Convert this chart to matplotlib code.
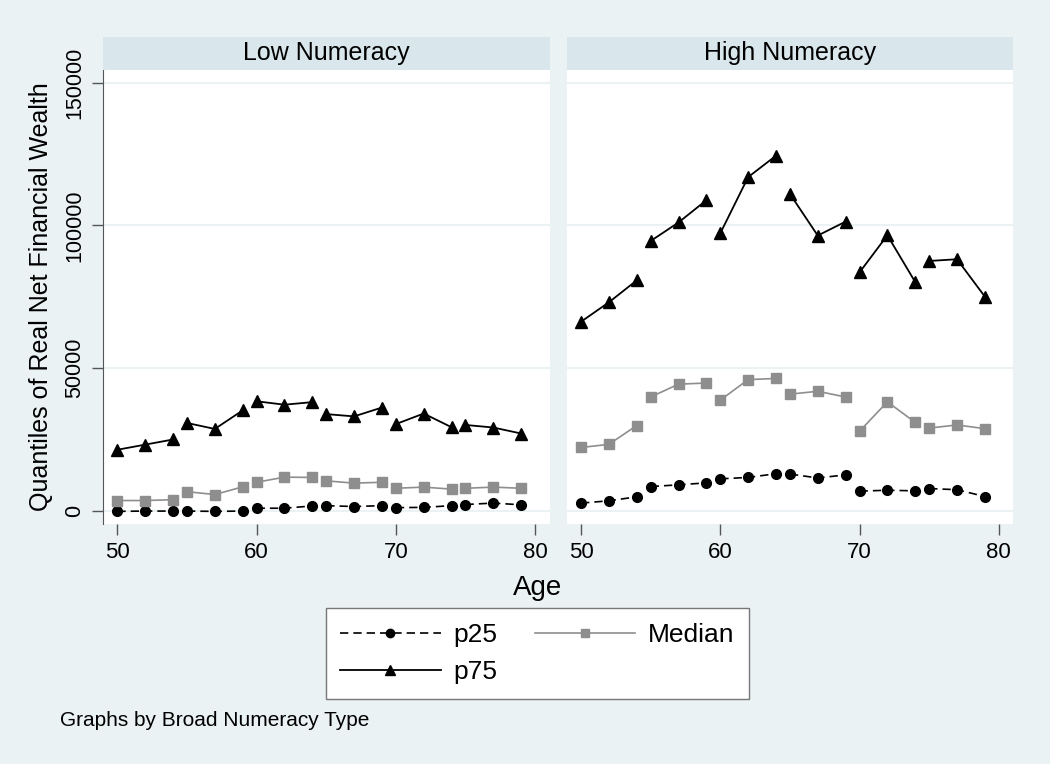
import numpy as np
import matplotlib.pyplot as plt
from matplotlib.lines import Line2D

plt.rcParams['font.family'] = ['Liberation Sans', 'DejaVu Sans']

# ages (data are grouped in blocks of three, lines break between blocks)
age = [50, 52, 54, 55, 57, 59, 60, 62, 64, 65, 67, 69, 70, 72, 74, 75, 77, 79]

low_p25 = [-300, -200, -200, -200, -300, -200, 800, 800, 1600, 1700, 1400, 1700,
           1000, 1100, 1700, 2100, 2600, 2000]
low_med = [3500, 3500, 3800, 6600, 5600, 8300, 9900, 11700, 11600, 10400, 9600, 9900,
           7800, 8200, 7500, 7800, 8200, 7800]
low_p75 = [21300, 23100, 24900, 30700, 28600, 35100, 38300, 37100, 38000, 33800, 33000, 36100,
           30300, 34000, 29200, 30000, 29100, 27000]

high_p25 = [2600, 3400, 4800, 8400, 9000, 9700, 11100, 11600, 12900, 12800, 11400, 12500,
            6800, 7100, 6900, 7700, 7300, 4900]
high_med = [22100, 23200, 29800, 39800, 44300, 44700, 38700, 45900, 46300, 40800, 41800, 39800,
            27800, 38100, 30900, 28900, 30000, 28700]
high_p75 = [66200, 73000, 80700, 94500, 101000, 108800, 97200, 116900, 124400, 111000, 96400, 101300,
            83500, 96500, 80100, 87500, 88100, 75000]

panels = ['Low Numeracy', 'High Numeracy']
yticks = [0, 50000, 100000, 150000]
xticks = [50, 60, 70, 80]

bg = '#EAF2F3'
strip_col = '#D9E6EB'
med_col = '#8E8E8E'

fig = plt.figure(figsize=(10.5, 7.64), dpi=100)
fig.patch.set_facecolor(bg)

styles = [
    dict(color='black', ls=(0, (5, 3)), lw=1.2, marker='o', ms=7),
    dict(color=med_col, ls='-', lw=1.2, marker='s', ms=7),
    dict(color='black', ls='-', lw=1.3, marker='^', ms=8),
]

data = [(low_p25, low_med, low_p75), (high_p25, high_med, high_p75)]
lefts = [103 / 1050, 566.7 / 1050]
width = 446.7 / 1050
bottom = 1 - 524 / 764
height = (524 - 69.5) / 764

for i, (title, series) in enumerate(zip(panels, data)):
    ax = fig.add_axes([lefts[i], bottom, width, height])
    ax.set_facecolor('white')
    for s, st in zip(series, styles):
        for g in range(0, len(age), 3):
            ax.plot(age[g:g + 3], s[g:g + 3], mec=st['color'], mfc=st['color'],
                    **st, zorder=3)
    ax.set_xlim(48.97, 81.05)
    ax.set_ylim(-4730, 154630)
    ax.set_yticks(yticks)
    ax.set_xticks(xticks)
    ax.grid(axis='y', color=bg, lw=1.5, zorder=0)
    ax.tick_params(axis='x', direction='out', length=8, width=1, color='#555555',
                   labelsize=16, pad=5)
    for sp in ['top', 'right', 'bottom']:
        ax.spines[sp].set_visible(False)
    if i == 0:
        ax.spines['left'].set_color('#555555')
        ax.tick_params(axis='y', direction='out', length=8, width=1, color='#555555',
                       labelsize=15.5, pad=5)
        ax.set_yticklabels([str(v) for v in yticks], rotation=90, va='center')
        ax.set_ylabel('Quantiles of Real Net Financial Wealth', fontsize=18, labelpad=8)
    else:
        ax.spines['left'].set_visible(False)
        ax.tick_params(axis='y', left=False, labelleft=False)

    sax = fig.add_axes([lefts[i], 1 - 69.5 / 764, width, 32.8 / 764])
    sax.set_facecolor(strip_col)
    sax.set_xticks([])
    sax.set_yticks([])
    for sp in sax.spines.values():
        sp.set_visible(False)
    sax.text(0.5, 0.5, title, ha='center', va='center', fontsize=18,
             transform=sax.transAxes)

fig.text(538 / 1050, 1 - 588 / 764, 'Age', ha='center', va='center', fontsize=20)

handles = [Line2D([0], [0], mec=st['color'], mfc=st['color'],
                  **{k: v for k, v in st.items() if k != 'ms'}, ms=st['ms'] - 1)
           for st in styles]
# order so that p25, p75 fill the first column and Median the second
leg = fig.legend([handles[0], handles[2], handles[1]], ['p25', 'p75', 'Median'],
                 ncol=2, loc='center', bbox_to_anchor=(537.5 / 1050, 1 - 653.5 / 764),
                 fontsize=19, frameon=True, fancybox=False, handlelength=3.8,
                 columnspacing=1.4, borderpad=0.55, labelspacing=0.5,
                 handletextpad=0.5, borderaxespad=0, framealpha=1)
leg.get_frame().set_edgecolor('#777777')
leg.get_frame().set_linewidth(1)
leg.get_frame().set_facecolor('white')

fig.text(60 / 1050, 1 - 720 / 764, 'Graphs by Broad Numeracy Type', ha='left',
         va='center', fontsize=15)

fig.savefig('out.png', dpi=100, facecolor=bg)
